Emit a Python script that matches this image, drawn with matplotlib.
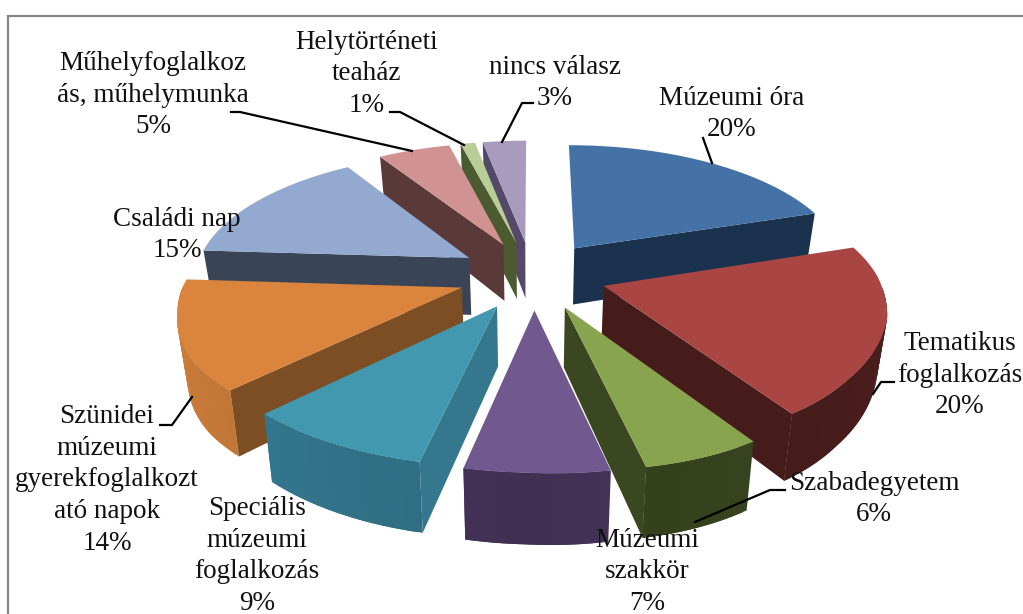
import numpy as np
import matplotlib
matplotlib.use("Agg")
import matplotlib.pyplot as plt
from matplotlib.colors import to_rgb

categories = ["Múzeumi óra", "Tematikus\nfoglalkozás", "Szabadegyetem", "Múzeumi\nszakkör",
              "Speciális\nmúzeumi\nfoglalkozás", "Szünidei\nmúzeumi\ngyerekfoglalkozt\nató napok",
              "Családi nap", "Műhelyfoglalkoz\nás, műhelymunka", "Helytörténeti\nteaház", "nincs válasz"]
values = [20, 20, 6, 7, 9, 14, 15, 5, 1, 3]
top_colors = ["#4472A6", "#A94543", "#88A44E", "#71588F", "#4198AF", "#DA843D", "#93A9CF", "#D19392", "#B9CD96", "#A99BBD"]
wall_colors = ["#1B324F", "#451C1A", "#3A4720", "#48355A", "#35788E", "#7D4E23", "#3A4457", "#5A3A39", "#4C5A30", "#55496A"]
rim_colors = ["#1B324F", "#451C1A", "#37431E", "#46345A", "#32748A", "#BF7536", "#3A4457", "#5A3A39", "#4C5A30", "#55496A"]

label_xy = [(732, 114), (960, 375), (874, 499), (647, 572), (257, 556), (107, 480),
            (177, 235), (153, 95), (367, 74), (555, 83)]
leaders = [[(703, 138), (712, 163)],
           [(894, 382), (881, 382), (873, 394)],
           [(785, 490), (770, 490), (695, 522)],
           [],
           [],
           [(192, 397), (172, 425), (160, 425)],
           [],
           [(231, 112), (240, 112), (412, 151)],
           [(390, 112), (400, 112), (464, 145)],
           [(533, 103), (522, 103), (502, 142)]]

CX, CY, RX, RY, K, DEPTH, EXPLODE, CONVERGE = 532, 275, 275, 126, 0.15, 58, 0.27, 0.03


def project(u, v, z=0.0):
    w = 1 + K * v
    front = np.clip((-0.3 - v) / 0.4, 0, 1)
    x = CX + RX * u / w * (1 - CONVERGE * z) - 8 * front
    skew = 12 if u > 0 else 5
    y = CY - RY * v / w + DEPTH * z / w + skew * u * max(-v, 0)
    return x, y


def shade(color, f):
    return tuple(min(1, c * f) for c in to_rgb(color))


fig = plt.figure(figsize=(10.23, 6.14), dpi=100)
ax = fig.add_axes([0, 0, 1, 1])
ax.set_xlim(0, 1023)
ax.set_ylim(614, 0)
ax.axis("off")
plt.rcParams["font.family"] = ["Liberation Serif", "DejaVu Serif"]

ax.plot([8, 8, 1023], [614, 16, 16], color="#858585", lw=1.6, solid_joinstyle="miter")

fractions = np.array(values) / sum(values)
ends = np.cumsum(fractions) * 2 * np.pi
starts = ends - fractions * 2 * np.pi
mids = (starts + ends) / 2
order = np.argsort(-np.cos(mids))

for i in order:
    a0, a1, m = starts[i], ends[i], mids[i]
    ou, ov = EXPLODE * np.sin(m), EXPLODE * np.cos(m)
    th = np.linspace(a0, a1, max(8, int(values[i] * 4)))
    us, vs = ou + np.sin(th), ov + np.cos(th)

    # Outer wall: only the front-facing part, as overlapping strips so no seams appear.
    n = len(th)
    for j in range(n - 1):
        tm = (th[j] + th[j + 1]) / 2
        if np.cos(tm) > 0:
            continue
        f = 0.92 + 0.14 * abs(np.sin(tm))
        k = min(j + 2, n - 1)
        pts = [project(us[j], vs[j]), project(us[k], vs[k]), project(us[k], vs[k], 1), project(us[j], vs[j], 1)]
        ax.fill(*zip(*pts), color=shade(rim_colors[i], f), lw=0, zorder=2)

    # Radial walls: only those that face the viewer.
    if np.sin(a0) < -1e-6:
        pts = [project(ou, ov), project(us[0], vs[0]), project(us[0], vs[0], 1), project(ou, ov, 1)]
        ax.fill(*zip(*pts), color=wall_colors[i], lw=0, zorder=2)
    if -np.sin(a1) < -1e-6:
        pts = [project(ou, ov), project(us[-1], vs[-1]), project(us[-1], vs[-1], 1), project(ou, ov, 1)]
        ax.fill(*zip(*pts), color=wall_colors[i], lw=0, zorder=2)

    top = [project(ou, ov)] + [project(a, b) for a, b in zip(us, vs)]
    ax.fill(*zip(*top), color=top_colors[i], lw=0, zorder=2)

for name, val, xy, lead in zip(categories, values, label_xy, leaders):
    ax.text(xy[0], xy[1], f"{name}\n{val}%", ha="center", va="center", fontsize=19.5,
            color="#111111", linespacing=1.36, zorder=4)
    if lead:
        ax.plot(*zip(*lead), color="black", lw=1.6, zorder=3)

fig.savefig("out.png", dpi=100)
